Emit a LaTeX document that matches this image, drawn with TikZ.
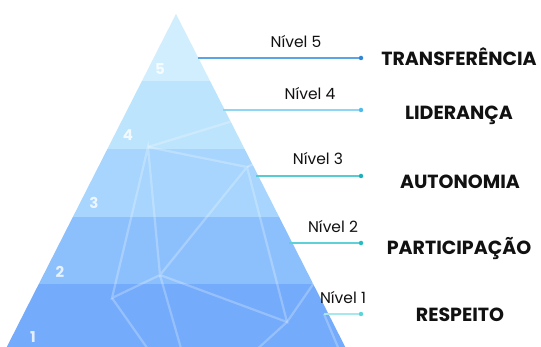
\documentclass[tikz,border=0pt]{standalone}
\usepackage{fontspec}
\setmainfont{Poppins}
\usetikzlibrary{positioning}
\definecolor{BandA}{HTML}{74ABFB}
\definecolor{BandB}{HTML}{8CC0FD}
\definecolor{BandC}{HTML}{A7D5FE}
\definecolor{BandD}{HTML}{BDE4FD}
\definecolor{BandE}{HTML}{D0EEFD}
\definecolor{LineE}{HTML}{5AA5E6}
\definecolor{DotE}{HTML}{2F86D6}
\definecolor{LineD}{HTML}{8ED6F4}
\definecolor{DotD}{HTML}{4FBDEB}
\definecolor{LineC}{HTML}{55CCD4}
\definecolor{DotC}{HTML}{1EB0BA}
\definecolor{LineB}{HTML}{5ED0D8}
\definecolor{DotB}{HTML}{25BCC4}
\definecolor{LineA}{HTML}{A6E8EE}
\definecolor{DotA}{HTML}{5DD4DC}
\definecolor{Ink}{HTML}{111111}

\begin{document}
\begin{tikzpicture}[x=1pt,y=-1pt,mesh/.style={draw=white, opacity=0.25, line width=2.2pt},levelnum/.style={text=white, opacity=0.8, font=\fontsize{15}{17}\selectfont\bfseries},nivel/.style={text=Ink, font=\fontsize{15.5}{18}\selectfont},stage/.style={text=Ink, font=\fontsize{19}{21}\selectfont\bfseries},link/.style={line width=2pt},dot/.style={circle, inner sep=0pt, minimum size=4.5pt}]
\clip (0,0) rectangle (541,347);
\fill[white] (0,0) rectangle (541,347);
% pyramid bands
\begin{scope}
\clip (176,14) -- (-10,380) -- (362,380) -- cycle;
\fill[BandE] (0,0) rectangle (541,81);
\fill[BandD] (0,81) rectangle (541,149);
\fill[BandC] (0,149) rectangle (541,217);
\fill[BandB] (0,217) rectangle (541,284);
\fill[BandA] (0,284) rectangle (541,360);
% faint network over the bands
\coordinate (p1) at (148,147); \coordinate (p2) at (247,167);
\coordinate (p3) at (160,275); \coordinate (p4) at (112,298);
\coordinate (p5) at (287,322);
\draw[mesh] (p1) -- (236,120);
\draw[mesh] (p1) -- (p2) -- (p3) -- (p1) -- (p4) -- (p3) -- (p5) -- (p2);
\draw[mesh] (p4) -- (150,352); \draw[mesh] (p3) -- (182,352);
\draw[mesh] (p5) -- (254,352); \draw[mesh] (p5) -- (316,280);
\draw[mesh] (p2) -- (262,160);
\draw[mesh] (324,314) -- (340,352);
\end{scope}
\node[levelnum] (n5) at (160,69) {5};
\node[levelnum] (n4) at (128,135) {4};
\node[levelnum] (n3) at (94,203) {3};
\node[levelnum] (n2) at (60,272) {2};
\node[levelnum] (n1) at (33,337) {1};
% level connectors
\coordinate (s5) at (198,58); \node[dot, fill=DotE] (d5) at (361,58) {};
\coordinate (s4) at (223,110); \node[dot, fill=DotD] (d4) at (361,110) {};
\coordinate (s3) at (256,176); \node[dot, fill=DotC] (d3) at (361,176) {};
\coordinate (s2) at (289,243); \node[dot, fill=DotB] (d2) at (361,243) {};
\coordinate (s1) at (324,314); \node[dot, fill=DotA] (d1) at (361,314) {};
\draw[link, LineE] (s5) -- (d5);
\draw[link, LineD] (s4) -- (d4);
\draw[link, LineC] (s3) -- (d3);
\draw[link, LineB] (s2) -- (d2);
\draw[link, LineA] (s1) -- (d1);
\node[nivel] (v5) at (296,42) {Nível 5};
\node[nivel] (v4) at (310,94) {Nível 4};
\node[nivel] (v3) at (318,159) {Nível 3};
\node[nivel] (v2) at (333,227) {Nível 2};
\node[nivel] (v1) at (343,298) {Nível 1};
\node[stage] (t5) at (459,57) {TRANSFERÊNCIA};
\node[stage] (t4) at (459,115) {LIDERANÇA};
\node[stage] (t3) at (460,182) {AUTONOMIA};
\node[stage] (t2) at (459,249) {PARTICIPAÇÃO};
\node[stage] (t1) at (460,315) {RESPEITO};
\end{tikzpicture}
\end{document}
